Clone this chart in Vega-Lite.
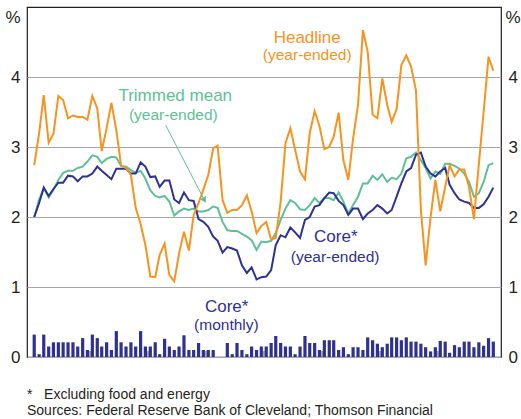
{
  "$schema": "https://vega.github.io/schema/vega-lite/v6.json",
  "width": 474,
  "height": 350,
  "autosize": {"type": "none"},
  "padding": {"left": 27, "top": 7, "right": 20, "bottom": 62},
  "background": "white",
  "config": {
    "font": "Liberation Sans",
    "view": {"stroke": "#231f20", "strokeWidth": 1.2},
    "axis": {"labelFont": "Liberation Sans", "labelFontSize": 17, "labelColor": "#231f20", "titleFont": "Liberation Sans", "titleFontSize": 17, "titleFontWeight": "normal", "titleColor": "#231f20", "ticks": false, "domain": false},
    "axisX": {"grid": false, "labelPadding": 7},
    "axisY": {"labelPadding": 7}
  },
  "title": {
    "text": ["*\u00a0\u00a0\u00a0Excluding food and energy", "Sources: Federal Reserve Bank of Cleveland; Thomson Financial"],
    "orient": "bottom", "anchor": "start", "frame": "group", "fontSize": 14, "fontWeight": "normal", "font": "Liberation Sans", "color": "#231f20", "offset": 23, "lineHeight": 15.5
  },
  "datasets": {
    "cpi": [
      {"date": "2000-01-15", "Headline": 2.74, "Trimmed mean": 2.0, "Core": 2.0, "Core monthly": 0.32},
      {"date": "2000-02-15", "Headline": 3.2, "Trimmed mean": 2.25, "Core": 2.2, "Core monthly": 0.04},
      {"date": "2000-03-15", "Headline": 3.74, "Trimmed mean": 2.41, "Core": 2.42, "Core monthly": 0.32},
      {"date": "2000-04-15", "Headline": 3.06, "Trimmed mean": 2.28, "Core": 2.3, "Core monthly": 0.15},
      {"date": "2000-05-15", "Headline": 3.19, "Trimmed mean": 2.39, "Core": 2.4, "Core monthly": 0.21},
      {"date": "2000-06-15", "Headline": 3.73, "Trimmed mean": 2.53, "Core": 2.49, "Core monthly": 0.21},
      {"date": "2000-07-15", "Headline": 3.67, "Trimmed mean": 2.63, "Core": 2.49, "Core monthly": 0.21},
      {"date": "2000-08-15", "Headline": 3.41, "Trimmed mean": 2.66, "Core": 2.59, "Core monthly": 0.21},
      {"date": "2000-09-15", "Headline": 3.45, "Trimmed mean": 2.66, "Core": 2.58, "Core monthly": 0.21},
      {"date": "2000-10-15", "Headline": 3.43, "Trimmed mean": 2.7, "Core": 2.51, "Core monthly": 0.15},
      {"date": "2000-11-15", "Headline": 3.43, "Trimmed mean": 2.72, "Core": 2.58, "Core monthly": 0.27},
      {"date": "2000-12-15", "Headline": 3.39, "Trimmed mean": 2.79, "Core": 2.58, "Core monthly": 0.1},
      {"date": "2001-01-15", "Headline": 3.73, "Trimmed mean": 2.88, "Core": 2.62, "Core monthly": 0.32},
      {"date": "2001-02-15", "Headline": 3.55, "Trimmed mean": 2.86, "Core": 2.72, "Core monthly": 0.27},
      {"date": "2001-03-15", "Headline": 2.94, "Trimmed mean": 2.77, "Core": 2.66, "Core monthly": 0.15},
      {"date": "2001-04-15", "Headline": 3.27, "Trimmed mean": 2.83, "Core": 2.6, "Core monthly": 0.21},
      {"date": "2001-05-15", "Headline": 3.63, "Trimmed mean": 2.86, "Core": 2.54, "Core monthly": 0.1},
      {"date": "2001-06-15", "Headline": 3.24, "Trimmed mean": 2.85, "Core": 2.69, "Core monthly": 0.37},
      {"date": "2001-07-15", "Headline": 2.73, "Trimmed mean": 2.73, "Core": 2.69, "Core monthly": 0.21},
      {"date": "2001-08-15", "Headline": 2.7, "Trimmed mean": 2.72, "Core": 2.69, "Core monthly": 0.15},
      {"date": "2001-09-15", "Headline": 2.6, "Trimmed mean": 2.67, "Core": 2.62, "Core monthly": 0.21},
      {"date": "2001-10-15", "Headline": 2.13, "Trimmed mean": 2.63, "Core": 2.62, "Core monthly": 0.15},
      {"date": "2001-11-15", "Headline": 1.9, "Trimmed mean": 2.66, "Core": 2.78, "Core monthly": 0.37},
      {"date": "2001-12-15", "Headline": 1.6, "Trimmed mean": 2.55, "Core": 2.72, "Core monthly": 0.15},
      {"date": "2002-01-15", "Headline": 1.15, "Trimmed mean": 2.38, "Core": 2.57, "Core monthly": 0.15},
      {"date": "2002-02-15", "Headline": 1.14, "Trimmed mean": 2.3, "Core": 2.58, "Core monthly": 0.21},
      {"date": "2002-03-15", "Headline": 1.46, "Trimmed mean": 2.28, "Core": 2.43, "Core monthly": 0.04},
      {"date": "2002-04-15", "Headline": 1.62, "Trimmed mean": 2.3, "Core": 2.52, "Core monthly": 0.26},
      {"date": "2002-05-15", "Headline": 1.17, "Trimmed mean": 2.22, "Core": 2.52, "Core monthly": 0.15},
      {"date": "2002-06-15", "Headline": 1.08, "Trimmed mean": 2.02, "Core": 2.25, "Core monthly": 0.1},
      {"date": "2002-07-15", "Headline": 1.48, "Trimmed mean": 2.08, "Core": 2.2, "Core monthly": 0.15},
      {"date": "2002-08-15", "Headline": 1.79, "Trimmed mean": 2.12, "Core": 2.35, "Core monthly": 0.31},
      {"date": "2002-09-15", "Headline": 1.52, "Trimmed mean": 2.1, "Core": 2.24, "Core monthly": 0.1},
      {"date": "2002-10-15", "Headline": 2.03, "Trimmed mean": 2.12, "Core": 2.23, "Core monthly": 0.1},
      {"date": "2002-11-15", "Headline": 2.2, "Trimmed mean": 2.08, "Core": 1.97, "Core monthly": 0.2},
      {"date": "2002-12-15", "Headline": 2.39, "Trimmed mean": 2.08, "Core": 1.93, "Core monthly": 0.1},
      {"date": "2003-01-15", "Headline": 2.6, "Trimmed mean": 2.1, "Core": 1.86, "Core monthly": 0.1},
      {"date": "2003-02-15", "Headline": 2.98, "Trimmed mean": 2.15, "Core": 1.72, "Core monthly": 0.1},
      {"date": "2003-03-15", "Headline": 3.02, "Trimmed mean": 2.13, "Core": 1.66, "Core monthly": 0.0},
      {"date": "2003-04-15", "Headline": 2.24, "Trimmed mean": 1.93, "Core": 1.49, "Core monthly": 0.0},
      {"date": "2003-05-15", "Headline": 2.06, "Trimmed mean": 1.81, "Core": 1.57, "Core monthly": 0.2},
      {"date": "2003-06-15", "Headline": 2.1, "Trimmed mean": 1.8, "Core": 1.55, "Core monthly": 0.04},
      {"date": "2003-07-15", "Headline": 2.1, "Trimmed mean": 1.8, "Core": 1.52, "Core monthly": 0.2},
      {"date": "2003-08-15", "Headline": 2.17, "Trimmed mean": 1.76, "Core": 1.31, "Core monthly": 0.1},
      {"date": "2003-09-15", "Headline": 2.31, "Trimmed mean": 1.72, "Core": 1.2, "Core monthly": 0.04},
      {"date": "2003-10-15", "Headline": 2.08, "Trimmed mean": 1.67, "Core": 1.28, "Core monthly": 0.15},
      {"date": "2003-11-15", "Headline": 1.77, "Trimmed mean": 1.53, "Core": 1.11, "Core monthly": 0.1},
      {"date": "2003-12-15", "Headline": 1.87, "Trimmed mean": 1.65, "Core": 1.14, "Core monthly": 0.15},
      {"date": "2004-01-15", "Headline": 1.93, "Trimmed mean": 1.64, "Core": 1.15, "Core monthly": 0.15},
      {"date": "2004-02-15", "Headline": 1.68, "Trimmed mean": 1.66, "Core": 1.24, "Core monthly": 0.2},
      {"date": "2004-03-15", "Headline": 1.7, "Trimmed mean": 1.77, "Core": 1.6, "Core monthly": 0.3},
      {"date": "2004-04-15", "Headline": 2.22, "Trimmed mean": 1.96, "Core": 1.74, "Core monthly": 0.2},
      {"date": "2004-05-15", "Headline": 3.05, "Trimmed mean": 2.12, "Core": 1.71, "Core monthly": 0.15},
      {"date": "2004-06-15", "Headline": 3.27, "Trimmed mean": 2.24, "Core": 1.85, "Core monthly": 0.15},
      {"date": "2004-07-15", "Headline": 2.96, "Trimmed mean": 2.2, "Core": 1.78, "Core monthly": 0.04},
      {"date": "2004-08-15", "Headline": 2.65, "Trimmed mean": 2.11, "Core": 1.7, "Core monthly": 0.15},
      {"date": "2004-09-15", "Headline": 2.54, "Trimmed mean": 2.1, "Core": 1.96, "Core monthly": 0.3},
      {"date": "2004-10-15", "Headline": 3.2, "Trimmed mean": 2.17, "Core": 2.0, "Core monthly": 0.2},
      {"date": "2004-11-15", "Headline": 3.51, "Trimmed mean": 2.27, "Core": 2.15, "Core monthly": 0.2},
      {"date": "2004-12-15", "Headline": 3.3, "Trimmed mean": 2.2, "Core": 2.17, "Core monthly": 0.1},
      {"date": "2005-01-15", "Headline": 2.97, "Trimmed mean": 2.27, "Core": 2.27, "Core monthly": 0.24},
      {"date": "2005-02-15", "Headline": 3.0, "Trimmed mean": 2.27, "Core": 2.35, "Core monthly": 0.24},
      {"date": "2005-03-15", "Headline": 3.15, "Trimmed mean": 2.24, "Core": 2.34, "Core monthly": 0.24},
      {"date": "2005-04-15", "Headline": 3.49, "Trimmed mean": 2.35, "Core": 2.23, "Core monthly": 0.1},
      {"date": "2005-05-15", "Headline": 2.81, "Trimmed mean": 2.22, "Core": 2.17, "Core monthly": 0.14},
      {"date": "2005-06-15", "Headline": 2.53, "Trimmed mean": 2.05, "Core": 2.03, "Core monthly": 0.04},
      {"date": "2005-07-15", "Headline": 3.12, "Trimmed mean": 2.17, "Core": 2.12, "Core monthly": 0.14},
      {"date": "2005-08-15", "Headline": 3.6, "Trimmed mean": 2.29, "Core": 2.12, "Core monthly": 0.14},
      {"date": "2005-09-15", "Headline": 4.67, "Trimmed mean": 2.48, "Core": 1.97, "Core monthly": 0.1},
      {"date": "2005-10-15", "Headline": 4.36, "Trimmed mean": 2.48, "Core": 2.05, "Core monthly": 0.28},
      {"date": "2005-11-15", "Headline": 3.46, "Trimmed mean": 2.59, "Core": 2.1, "Core monthly": 0.24},
      {"date": "2005-12-15", "Headline": 3.41, "Trimmed mean": 2.53, "Core": 2.17, "Core monthly": 0.19},
      {"date": "2006-01-15", "Headline": 3.98, "Trimmed mean": 2.61, "Core": 2.12, "Core monthly": 0.14},
      {"date": "2006-02-15", "Headline": 3.6, "Trimmed mean": 2.5, "Core": 2.05, "Core monthly": 0.19},
      {"date": "2006-03-15", "Headline": 3.36, "Trimmed mean": 2.56, "Core": 2.1, "Core monthly": 0.28},
      {"date": "2006-04-15", "Headline": 3.54, "Trimmed mean": 2.54, "Core": 2.29, "Core monthly": 0.28},
      {"date": "2006-05-15", "Headline": 4.17, "Trimmed mean": 2.62, "Core": 2.48, "Core monthly": 0.24},
      {"date": "2006-06-15", "Headline": 4.31, "Trimmed mean": 2.84, "Core": 2.65, "Core monthly": 0.28},
      {"date": "2006-07-15", "Headline": 4.15, "Trimmed mean": 2.86, "Core": 2.7, "Core monthly": 0.22},
      {"date": "2006-08-15", "Headline": 3.81, "Trimmed mean": 2.92, "Core": 2.89, "Core monthly": 0.22},
      {"date": "2006-09-15", "Headline": 2.1, "Trimmed mean": 2.81, "Core": 2.92, "Core monthly": 0.19},
      {"date": "2006-10-15", "Headline": 1.31, "Trimmed mean": 2.7, "Core": 2.72, "Core monthly": 0.14},
      {"date": "2006-11-15", "Headline": 2.0, "Trimmed mean": 2.55, "Core": 2.62, "Core monthly": 0.08},
      {"date": "2006-12-15", "Headline": 2.53, "Trimmed mean": 2.65, "Core": 2.58, "Core monthly": 0.14},
      {"date": "2007-01-15", "Headline": 2.08, "Trimmed mean": 2.62, "Core": 2.65, "Core monthly": 0.23},
      {"date": "2007-02-15", "Headline": 2.43, "Trimmed mean": 2.76, "Core": 2.7, "Core monthly": 0.22},
      {"date": "2007-03-15", "Headline": 2.74, "Trimmed mean": 2.76, "Core": 2.46, "Core monthly": 0.06},
      {"date": "2007-04-15", "Headline": 2.58, "Trimmed mean": 2.73, "Core": 2.34, "Core monthly": 0.17},
      {"date": "2007-05-15", "Headline": 2.68, "Trimmed mean": 2.69, "Core": 2.25, "Core monthly": 0.14},
      {"date": "2007-06-15", "Headline": 2.68, "Trimmed mean": 2.62, "Core": 2.22, "Core monthly": 0.22},
      {"date": "2007-07-15", "Headline": 2.43, "Trimmed mean": 2.5, "Core": 2.2, "Core monthly": 0.22},
      {"date": "2007-08-15", "Headline": 1.97, "Trimmed mean": 2.29, "Core": 2.13, "Core monthly": 0.14},
      {"date": "2007-09-15", "Headline": 2.76, "Trimmed mean": 2.34, "Core": 2.13, "Core monthly": 0.21},
      {"date": "2007-10-15", "Headline": 3.5, "Trimmed mean": 2.5, "Core": 2.18, "Core monthly": 0.16},
      {"date": "2007-11-15", "Headline": 4.29, "Trimmed mean": 2.74, "Core": 2.29, "Core monthly": 0.27},
      {"date": "2007-12-15", "Headline": 4.09, "Trimmed mean": 2.77, "Core": 2.42, "Core monthly": 0.22}
    ],
    "years": [
      {"date": "2001-01-01"}, {"date": "2002-01-01"}, {"date": "2003-01-01"}, {"date": "2004-01-01"},
      {"date": "2005-01-01"}, {"date": "2006-01-01"}, {"date": "2007-01-01"}
    ],
    "labels": [
      {"label": "Headline", "series": "Headline", "kind": "main", "date": "2004-09-29", "value": 4.49},
      {"label": "(year-ended)", "series": "Headline", "kind": "sub", "date": "2004-09-29", "value": 4.24},
      {"label": "Trimmed mean", "series": "Trimmed mean", "kind": "main", "date": "2002-06-21", "value": 3.66},
      {"label": "(year-ended)", "series": "Trimmed mean", "kind": "sub", "date": "2002-06-09", "value": 3.39},
      {"label": "Core*", "series": "Core", "kind": "main", "date": "2005-03-28", "value": 1.64},
      {"label": "(year-ended)", "series": "Core", "kind": "sub", "date": "2005-03-24", "value": 1.36},
      {"label": "Core*", "series": "Core", "kind": "main", "date": "2003-05-11", "value": 0.65},
      {"label": "(monthly)", "series": "Core", "kind": "sub", "date": "2003-05-09", "value": 0.39}
    ],
    "arrow": [
      {"x1": "2002-04-22", "y1": 3.31, "x2": "2002-12-22", "y2": 2.24}
    ]
  },
  "resolve": {"axis": {"y": "independent"}},
  "layer": [
    {
      "data": {"name": "cpi"},
      "mark": {"type": "bar", "width": 3.2, "color": "#2e3192"},
      "encoding": {
        "x": {
          "field": "date", "type": "temporal",
          "scale": {"type": "utc", "domain": [{"year": 2000, "month": 1, "date": 1, "utc": true}, {"year": 2008, "month": 1, "date": 1, "utc": true}]},
          "axis": {
            "values": [{"year": 2001, "month": 7, "date": 1, "utc": true}, {"year": 2003, "month": 7, "date": 1, "utc": true}, {"year": 2005, "month": 7, "date": 1, "utc": true}, {"year": 2007, "month": 7, "date": 1, "utc": true}],
            "format": "%Y", "title": null, "labelOverlap": false
          }
        },
        "y": {
          "field": "Core monthly", "type": "quantitative",
          "scale": {"domain": [0, 5], "nice": false, "zero": true},
          "axis": {"values": [0, 1, 2, 3, 4], "grid": true, "gridColor": "#a6a6a6", "gridWidth": 1, "title": "%", "titleAngle": 0, "titleAlign": "right", "titleBaseline": "middle", "titleX": -7, "titleY": 10}
        }
      }
    },
    {
      "data": {"name": "years"},
      "mark": {"type": "rule", "color": "#808080", "strokeWidth": 1.5},
      "encoding": {
        "x": {"field": "date", "type": "temporal", "scale": {"type": "utc", "domain": [{"year": 2000, "month": 1, "date": 1, "utc": true}, {"year": 2008, "month": 1, "date": 1, "utc": true}]}, "axis": null},
        "y": {"datum": 0, "type": "quantitative", "scale": {"domain": [0, 5], "nice": false}, "axis": null},
        "y2": {"datum": 0.085}
      }
    },
    {
      "data": {"name": "cpi"},
      "transform": [{"fold": ["Trimmed mean", "Core", "Headline"], "as": ["series", "value"]}],
      "mark": {"type": "line", "strokeWidth": 2},
      "encoding": {
        "x": {"field": "date", "type": "temporal", "scale": {"type": "utc", "domain": [{"year": 2000, "month": 1, "date": 1, "utc": true}, {"year": 2008, "month": 1, "date": 1, "utc": true}]}, "axis": null},
        "y": {
          "field": "value", "type": "quantitative",
          "scale": {"domain": [0, 5], "nice": false},
          "axis": {"orient": "right", "values": [0, 1, 2, 3, 4], "grid": false, "title": "%", "titleAngle": 0, "titleAlign": "left", "titleBaseline": "middle", "titleX": 4, "titleY": 10}
        },
        "color": {"field": "series", "type": "nominal", "scale": {"domain": ["Trimmed mean", "Core", "Headline"], "range": ["#5fbf95", "#2e3192", "#f7931e"]}, "legend": null}
      }
    },
    {
      "data": {"name": "labels"},
      "transform": [{"filter": "datum.kind == 'main'"}],
      "mark": {"type": "text", "fontSize": 17, "font": "Liberation Sans", "align": "center", "baseline": "alphabetic"},
      "encoding": {
        "x": {"field": "date", "type": "temporal", "scale": {"type": "utc", "domain": [{"year": 2000, "month": 1, "date": 1, "utc": true}, {"year": 2008, "month": 1, "date": 1, "utc": true}]}, "axis": null},
        "y": {"field": "value", "type": "quantitative", "scale": {"domain": [0, 5], "nice": false}, "axis": null},
        "text": {"field": "label"},
        "color": {"field": "series", "type": "nominal", "scale": {"domain": ["Trimmed mean", "Core", "Headline"], "range": ["#5fbf95", "#2e3192", "#f7931e"]}, "legend": null}
      }
    },
    {
      "data": {"name": "labels"},
      "transform": [{"filter": "datum.kind == 'sub'"}],
      "mark": {"type": "text", "fontSize": 15.5, "font": "Liberation Sans", "align": "center", "baseline": "alphabetic"},
      "encoding": {
        "x": {"field": "date", "type": "temporal", "scale": {"type": "utc", "domain": [{"year": 2000, "month": 1, "date": 1, "utc": true}, {"year": 2008, "month": 1, "date": 1, "utc": true}]}, "axis": null},
        "y": {"field": "value", "type": "quantitative", "scale": {"domain": [0, 5], "nice": false}, "axis": null},
        "text": {"field": "label"},
        "color": {"field": "series", "type": "nominal", "scale": {"domain": ["Trimmed mean", "Core", "Headline"], "range": ["#5fbf95", "#2e3192", "#f7931e"]}, "legend": null}
      }
    },
    {
      "data": {"name": "arrow"},
      "mark": {"type": "rule", "color": "#5fbf95", "strokeWidth": 1},
      "encoding": {
        "x": {"field": "x1", "type": "temporal", "scale": {"type": "utc", "domain": [{"year": 2000, "month": 1, "date": 1, "utc": true}, {"year": 2008, "month": 1, "date": 1, "utc": true}]}, "axis": null},
        "y": {"field": "y1", "type": "quantitative", "scale": {"domain": [0, 5], "nice": false}, "axis": null},
        "x2": {"field": "x2"},
        "y2": {"field": "y2"}
      }
    },
    {
      "data": {"name": "arrow"},
      "mark": {"type": "point", "shape": "triangle-up", "filled": true, "color": "#5fbf95", "size": 45, "angle": 151, "opacity": 1},
      "encoding": {
        "x": {"field": "x2", "type": "temporal", "scale": {"type": "utc", "domain": [{"year": 2000, "month": 1, "date": 1, "utc": true}, {"year": 2008, "month": 1, "date": 1, "utc": true}]}, "axis": null},
        "y": {"field": "y2", "type": "quantitative", "scale": {"domain": [0, 5], "nice": false}, "axis": null}
      }
    }
  ]
}
